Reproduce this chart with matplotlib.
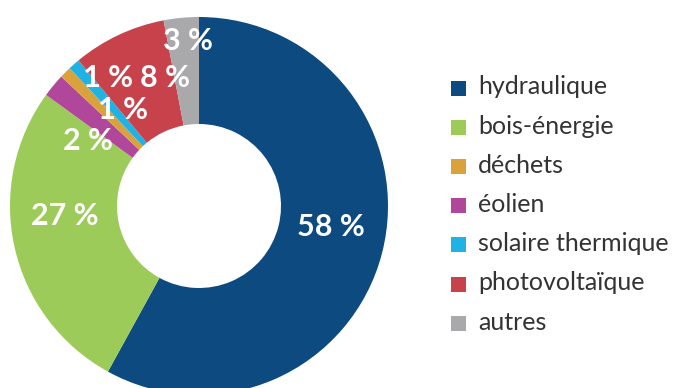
import matplotlib
matplotlib.use("Agg")
import matplotlib.pyplot as plt
from matplotlib.patches import Rectangle

# Shares of renewable energy sources (%)
categories = ["hydraulique", "bois-énergie", "déchets", "éolien",
              "solaire thermique", "photovoltaïque", "autres"]
values = [58, 27, 1, 2, 1, 8, 3]
labels = ["58 %", "27 %", "1 %", "2 %", "1 %", "8 %", "3 %"]
colors = ["#0d4a80", "#9dcb5a", "#d9a23c", "#b0479b",
          "#20b2e3", "#c8424b", "#a9a9ac"]

# Clockwise order around the ring, starting at 12 o'clock
ring_order = [0, 1, 3, 2, 4, 5, 6]

W, H = 675, 388
fig = plt.figure(figsize=(W / 100, H / 100), dpi=100)
ax = fig.add_axes([0, 0, 1, 1])

cx, cy, R = 199, H - 206, 189
ring_w = 107

ax.pie([values[i] for i in ring_order],
       colors=[colors[i] for i in ring_order],
       startangle=90, counterclock=False,
       center=(cx, cy), radius=R,
       wedgeprops=dict(width=ring_w, linewidth=0),
       frame=True)
ax.set_xlim(0, W)
ax.set_ylim(0, H)
ax.set_aspect("equal")
ax.axis("off")

font = "Lato"
# Value labels on the ring
label_pos = {0: (331, 227), 1: (65, 216), 3: (88, 141), 2: (123, 110),
             4: (108, 78), 5: (165, 78), 6: (188, 41)}
for i, (x, y) in label_pos.items():
    ax.text(x, H - y, labels[i], color="white", fontsize=22,
            family=font, fontweight="bold", ha="center", va="center")

# Legend
x0, y0, step, sq = 451, 88, 39.2, 15
for k, (name, col) in enumerate(zip(categories, colors)):
    yc = H - (y0 + k * step)
    ax.add_patch(Rectangle((x0, yc - sq / 2), sq, sq, color=col, lw=0))
    ax.text(x0 + 27, yc + 1, name, color="#333333", fontsize=18,
            family=font, ha="left", va="center")

fig.savefig("out.png", dpi=100, facecolor="white")
